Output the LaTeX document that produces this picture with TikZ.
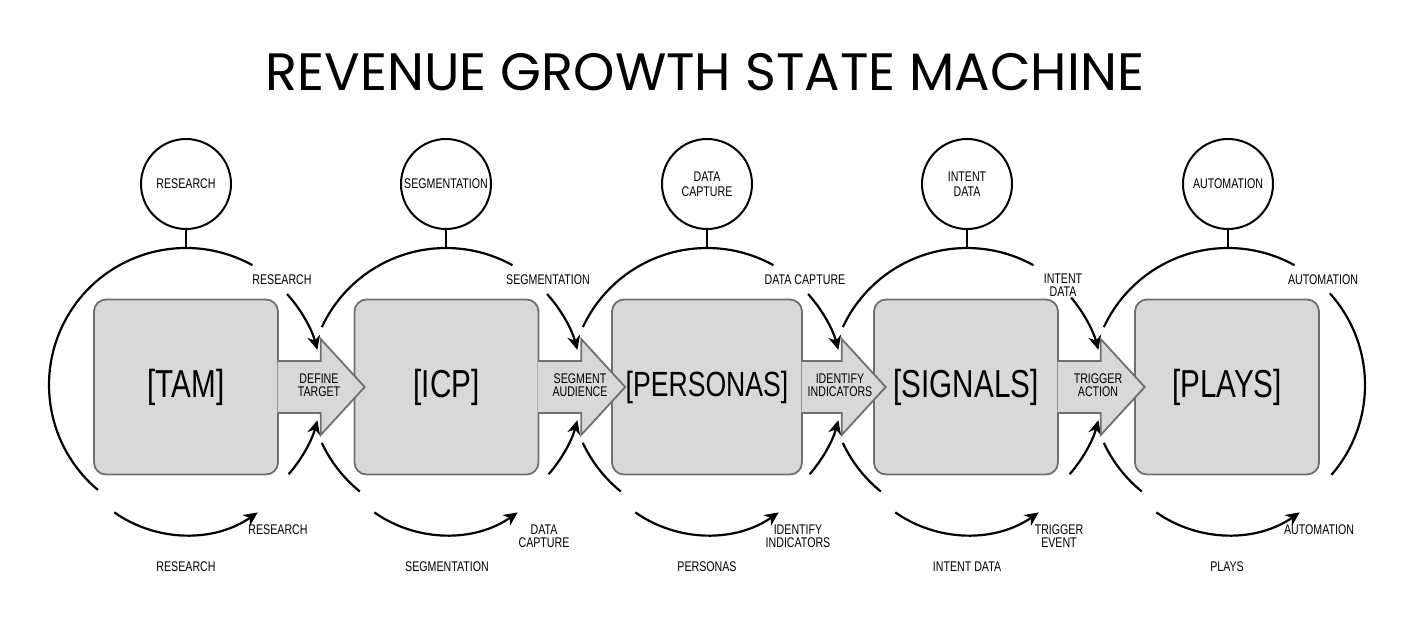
\documentclass[tikz,border=0pt]{standalone}
\usepackage{fontspec}
\setmainfont{Liberation Sans}
\newfontfamily\condfont[FakeStretch=0.76]{Liberation Sans}
\newfontfamily\titlefont{Poppins}
\usepackage{xcolor}
\usetikzlibrary{arrows.meta, positioning}
\definecolor{boxfill}{HTML}{D8D8D8}
\definecolor{boxline}{HTML}{6F6F6F}

\begin{document}
\begin{tikzpicture}[x=0.5pt, y=0.5pt]
	% Styles
	\tikzstyle{state} = [draw=boxline, fill=boxfill, line width=0.9pt, rounded corners=6pt, minimum width=92pt, minimum height=87.5pt, inner sep=0pt, font=\condfont\fontsize{19.5}{21}\selectfont]
	\tikzstyle{topic} = [draw, circle, line width=1pt, minimum size=45pt, inner sep=0pt, align=center, font=\condfont\fontsize{7}{7.5}\selectfont]
	\tikzstyle{lbl} = [align=center, inner sep=0pt, font=\condfont\fontsize{7}{6.5}\selectfont]
	\tikzstyle{ring} = [line width=1.1pt]
	\tikzstyle{flow} = [ring, -{Stealth[length=7pt, width=6.5pt]}]
	\tikzstyle{bigarrow} = [draw=boxline, fill=boxfill, line width=0.9pt]

	\useasboundingbox (0,0) rectangle (1408,629);

	% Title
	\node (title) [font=\titlefont\fontsize{26.3}{30}\selectfont] at (705,557) {REVENUE GROWTH STATE MACHINE};

	% Topic circles (absolute coordinates)
	\node (research) [topic] at (186,445) {RESEARCH};
	\node (segmentation) [topic] at (446,445) {SEGMENTATION};
	\node (capture) [topic] at (707,445) {DATA\\CAPTURE};
	\node (intent) [topic] at (967,445) {INTENT\\DATA};
	\node (automation) [topic] at (1228,445) {AUTOMATION};

	\coordinate (top1) at (186,381);
	\coordinate (top2) at (446,381);
	\coordinate (top3) at (707,381);
	\coordinate (top4) at (967,381);
	\coordinate (top5) at (1228,381);

	\draw [ring] (research) -- (top1);
	\draw [ring] (segmentation) -- (top2);
	\draw [ring] (capture) -- (top3);
	\draw [ring] (intent) -- (top4);
	\draw [ring] (automation) -- (top5);

	% Rings
	\draw [ring] (186,244) ++(61:137) arc [start angle=61, end angle=230, radius=137];
	\draw [ring] (446,244) ++(61:137) arc [start angle=61, end angle=155, radius=137];
	\draw [ring] (446,244) ++(205:137) arc [start angle=205, end angle=231, radius=137];
	\draw [ring] (707,244) ++(61:137) arc [start angle=61, end angle=155, radius=137];
	\draw [ring] (707,244) ++(205:137) arc [start angle=205, end angle=231, radius=137];
	\draw [ring] (967,244) ++(61:137) arc [start angle=61, end angle=155, radius=137];
	\draw [ring] (967,244) ++(205:137) arc [start angle=205, end angle=231, radius=137];
	\draw [ring] (1228,244) ++(61:137) arc [start angle=61, end angle=155, radius=137];
	\draw [ring] (1228,244) ++(205:137) arc [start angle=205, end angle=231, radius=137];
	\draw [ring] (1228,244) ++(-41:137) arc [start angle=-41, end angle=42, radius=137];

	% Ring arrows into the transitions
	\draw [flow] (186,244) ++(42:136) arc [start angle=42, end angle=15, radius=136];
	\draw [flow] (186,244) ++(-41:136) arc [start angle=-41, end angle=-15, radius=136];
	\draw [flow] (446,244) ++(42:136) arc [start angle=42, end angle=15, radius=136];
	\draw [flow] (446,244) ++(-41:136) arc [start angle=-41, end angle=-15, radius=136];
	\draw [flow] (707,244) ++(42:136) arc [start angle=42, end angle=15, radius=136];
	\draw [flow] (707,244) ++(-41:136) arc [start angle=-41, end angle=-15, radius=136];
	\draw [flow] (967,244) ++(40:136) arc [start angle=40, end angle=15, radius=136];
	\draw [flow] (967,244) ++(-41:136) arc [start angle=-41, end angle=-15, radius=136];

	% Lower arcs
	\draw [flow] (186,219) ++(235:125) arc [start angle=235, end angle=305, radius=125];
	\draw [flow] (446,219) ++(235:125) arc [start angle=235, end angle=305, radius=125];
	\draw [flow] (707,219) ++(235:125) arc [start angle=235, end angle=305, radius=125];
	\draw [flow] (967,219) ++(235:125) arc [start angle=235, end angle=305, radius=125];
	\draw [flow] (1228,219) ++(235:125) arc [start angle=235, end angle=305, radius=125];

	% States
	\node (tam) [state] at (186,242) {[TAM]};
	\node (icp) [state] at (446.5,242) {[ICP]};
	\node (personas) [state, minimum width=95pt, font=\condfont\fontsize{17.5}{21}\selectfont] at (707,242) {[PERSONAS]};
	\node (signals) [state] at (966,242) {[SIGNALS]};
	\node (plays) [state] at (1227,242) {[PLAYS]};

	% Transitions
	\draw [bigarrow] ([xshift=-0.6pt]tam.east) ++(0,26) -- ++(43,0) -- ++(0,22) -- ++(44,-48) -- ++(-44,-48) -- ++(0,22) -- ++(-43,0);
	\draw [bigarrow] ([xshift=-0.6pt]icp.east) ++(0,26) -- ++(43,0) -- ++(0,22) -- ++(44,-48) -- ++(-44,-48) -- ++(0,22) -- ++(-43,0);
	\draw [bigarrow] ([xshift=-0.6pt]personas.east) ++(0,26) -- ++(40,0) -- ++(0,22) -- ++(44,-48) -- ++(-44,-48) -- ++(0,22) -- ++(-40,0);
	\draw [bigarrow] ([xshift=-0.6pt]signals.east) ++(0,26) -- ++(43,0) -- ++(0,22) -- ++(44,-48) -- ++(-44,-48) -- ++(0,22) -- ++(-43,0);

	\node (define) [lbl] at (319,244) {DEFINE\\TARGET};
	\node (segment) [lbl] at (580,244) {SEGMENT\\AUDIENCE};
	\node (identify) [lbl] at (840,244) {IDENTIFY\\INDICATORS};
	\node (trigger) [lbl] at (1098,244) {TRIGGER\\ACTION};

	% Ring labels
	\node (tr1) [lbl] at (282,349) {RESEARCH};
	\node (tr2) [lbl] at (548,349) {SEGMENTATION};
	\node (tr3) [lbl] at (805,349) {DATA CAPTURE};
	\node (tr4) [lbl] at (1063,344) {INTENT\\DATA};
	\node (tr5) [lbl] at (1323,349) {AUTOMATION};

	\node (br1) [lbl] at (278,99) {RESEARCH};
	\node (br2) [lbl] at (544,93) {DATA\\CAPTURE};
	\node (br3) [lbl] at (798,93) {IDENTIFY\\INDICATORS};
	\node (br4) [lbl] at (1059,93) {TRIGGER\\EVENT};
	\node (br5) [lbl] at (1319,99) {AUTOMATION};

	\node (b1) [lbl] at (186,62) {RESEARCH};
	\node (b2) [lbl] at (447,62) {SEGMENTATION};
	\node (b3) [lbl] at (707,62) {PERSONAS};
	\node (b4) [lbl] at (967,62) {INTENT DATA};
	\node (b5) [lbl] at (1227,62) {PLAYS};

\end{tikzpicture}
\end{document}
